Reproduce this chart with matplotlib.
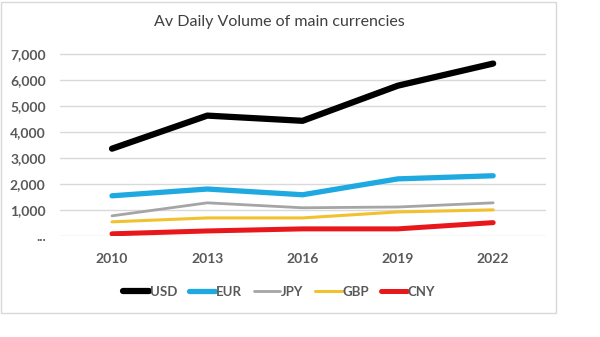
import matplotlib.pyplot as plt
from matplotlib.patches import Rectangle

plt.rcParams['font.family'] = ['Lato', 'DejaVu Sans']

# data
years = ["2010", "2013", "2016", "2019", "2022"]
usd = [3350, 4620, 4420, 5770, 6620]
eur = [1540, 1800, 1580, 2190, 2310]
jpy = [770, 1270, 1080, 1110, 1270]
gbp = [540, 690, 690, 920, 1000]
cny = [80, 190, 270, 270, 510]
yticks = [0, 1000, 2000, 3000, 4000, 5000, 6000, 7000]
ytick_labels = ["...", "1,000", "2,000", "3,000", "4,000", "5,000", "6,000", "7,000"]

fig = plt.figure(figsize=(6, 3.37), dpi=100)
ax = fig.add_axes([0.0993, 0.30, 0.81, 0.564])

x = range(len(years))
ax.plot(x, usd, color="black", lw=4.5, solid_capstyle="round", label="USD")
ax.plot(x, eur, color="#1fa9e1", lw=3.8, solid_capstyle="round", label="EUR")
ax.plot(x, jpy, color="#a5a5a5", lw=2.0, solid_capstyle="round", label="JPY")
ax.plot(x, gbp, color="#f2c12e", lw=2.2, solid_capstyle="round", label="GBP")
ax.plot(x, cny, color="#e8171b", lw=3.6, solid_capstyle="round", label="CNY")

ax.set_xlim(-0.55, 4.55)
ax.set_ylim(0, 7300)
ax.set_xticks(list(x))
ax.set_xticklabels(years)
ax.set_yticks(yticks)
ax.set_yticklabels(ytick_labels)
ax.grid(axis="y", color="#d9d9d9", lw=1)
ax.set_axisbelow(True)
for s in ax.spines.values():
    s.set_visible(False)
ax.tick_params(length=0, labelsize=10, labelcolor="#595959")
ax.tick_params(axis="x", pad=12)
ax.tick_params(axis="y", pad=10)
for t in ax.get_xticklabels() + ax.get_yticklabels():
    t.set_fontweight("bold")

fig.text(0.465, 0.935, "Av Daily Volume of main currencies", ha="center", va="center",
         fontsize=11.5, color="#404040")

leg = fig.legend(loc="center", bbox_to_anchor=(0.465, 0.135), ncol=5, frameon=False,
                 handlelength=2.0, handletextpad=0.05, columnspacing=0.9,
                 prop={"size": 9.5, "weight": "bold"})
for t in leg.get_texts():
    t.set_color("#595959")

fig.patches.append(Rectangle((0.002, 0.07), 0.925, 0.925, transform=fig.transFigure,
                             fill=False, edgecolor="#d9d9d9", lw=1))

fig.savefig("out.png", dpi=100)
